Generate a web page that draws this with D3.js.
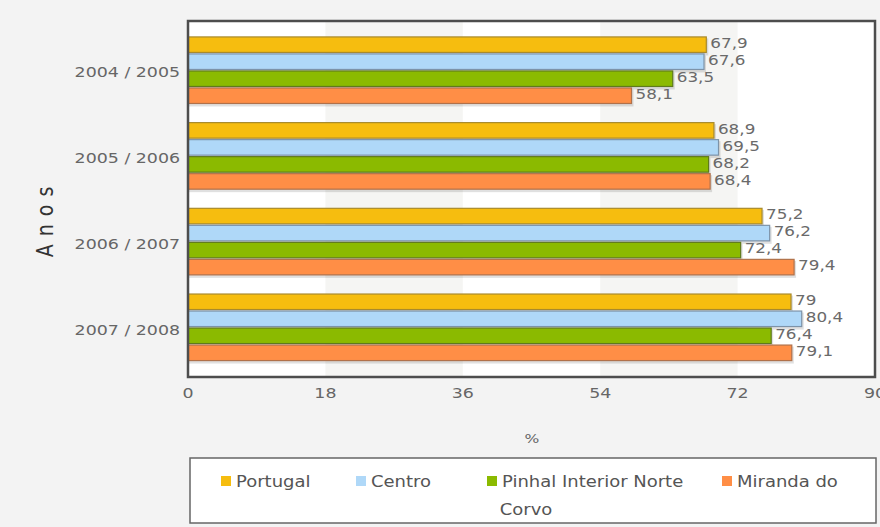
<!DOCTYPE html>
<html>
<head>
<meta charset="utf-8">
<script src="https://cdn.jsdelivr.net/npm/d3@7/dist/d3.min.js"></script>
<style>
  html, body { margin: 0; padding: 0; background: #f3f3f3; }
  svg { display: block; }
  text { font-family: "DejaVu Sans", Verdana, sans-serif; }
</style>
</head>
<body>
<svg id="chart" width="880" height="527"></svg>
<script>
// Categories (school years) and series
const anos = ["2004 / 2005", "2005 / 2006", "2006 / 2007", "2007 / 2008"];
const series = ["Portugal", "Centro", "Pinhal Interior Norte", "Miranda do Corvo"];
const colors = ["#F6BD0F", "#AFD8F8", "#8BBA00", "#FF8E46"];
const borders = ["#a88a2c", "#7d93a8", "#5f7a1c", "#b0714a"];

// Values (%) per series, in the order of anos
const portugal = [67.9, 68.9, 75.2, 79];
const centro = [67.6, 69.5, 76.2, 80.4];
const pinhal = [63.5, 68.2, 72.4, 76.4];
const miranda = [58.1, 68.4, 79.4, 79.1];
const valores = [portugal, centro, pinhal, miranda];

const xTicks = [0, 18, 36, 54, 72, 90];

const SX = 1.2; // horizontal text stretch
const svg = d3.select("#chart");

const plot = { left: 188, right: 875, top: 21, bottom: 377 };

const x = d3.scaleLinear().domain([0, 90]).range([plot.left, plot.right]);
const y0 = d3.scaleBand().domain(anos).range([plot.top, plot.bottom])
  .paddingInner(0.206).paddingOuter(0.18);
const y1 = d3.scaleBand().domain(series).range([0, y0.bandwidth()]);

function label(g, tx, ty, str, opts = {}) {
  const t = g.append("text")
    .attr("transform", `translate(${tx},${ty}) scale(${SX},1)` + (opts.rotate ? ` rotate(${opts.rotate})` : ""))
    .attr("font-size", opts.size || 15)
    .attr("fill", opts.fill || "#666")
    .attr("text-anchor", opts.anchor || "start")
    .attr("dominant-baseline", "central")
    .text(str);
  if (opts.spacing) t.attr("letter-spacing", opts.spacing);
  return t;
}

// Plot background with alternating vertical bands
svg.append("rect")
  .attr("x", plot.left).attr("y", plot.top)
  .attr("width", plot.right - plot.left).attr("height", plot.bottom - plot.top)
  .attr("fill", "#ffffff");
svg.append("g").selectAll("rect")
  .data(d3.pairs(xTicks).filter((p, i) => i % 2 === 1))
  .join("rect")
  .attr("x", d => x(d[0])).attr("width", d => x(d[1]) - x(d[0]))
  .attr("y", plot.top).attr("height", plot.bottom - plot.top)
  .attr("fill", "#f5f5f3");

// Bars
const groups = svg.append("g").selectAll("g")
  .data(anos)
  .join("g")
  .attr("transform", d => `translate(0,${y0(d)})`);

groups.each(function (ano, ai) {
  const g = d3.select(this);
  series.forEach((s, si) => {
    const v = valores[si][ai];
    const yy = y1(s);
    const h = y1.bandwidth();
    // shadow
    g.append("rect")
      .attr("x", x(0) + 1).attr("y", yy + 2)
      .attr("width", x(v) - x(0) + 1).attr("height", h)
      .attr("fill", "#000").attr("opacity", 0.12);
    g.append("rect")
      .attr("x", x(0)).attr("y", yy + 0.5)
      .attr("width", x(v) - x(0)).attr("height", h - 1.5)
      .attr("fill", colors[si])
      .attr("stroke", borders[si]).attr("stroke-width", 1.2);
  });
});

// Value labels
groups.each(function (ano, ai) {
  const g = d3.select(this);
  series.forEach((s, si) => {
    const v = valores[si][ai];
    label(g, x(v) + 4, y1(s) + y1.bandwidth() / 2 - 1.5, String(v).replace(".", ","), { size: 14, fill: "#6a6a6a" });
  });
});

// Plot border
svg.append("rect")
  .attr("x", plot.left).attr("y", plot.top)
  .attr("width", plot.right - plot.left).attr("height", plot.bottom - plot.top)
  .attr("fill", "none").attr("stroke", "#4d4d4d").attr("stroke-width", 2.5);

// Y axis category labels
const yAxisG = svg.append("g");
anos.forEach(a => {
  label(yAxisG, 180, y0(a) + y0.bandwidth() / 2 + 2, a, { anchor: "end", size: 14.5 });
});

// X axis tick labels
const xAxisG = svg.append("g");
xTicks.forEach(t => {
  label(xAxisG, x(t), 393, String(t), { anchor: "middle", size: 14.5 });
});

// Axis titles
label(svg, 532, 438, "%", { anchor: "middle", size: 13 });
label(svg, 45, 218, "Anos", { anchor: "middle", size: 19, fill: "#333", rotate: -90, spacing: 8 });

// Legend
const legend = svg.append("g");
legend.append("rect")
  .attr("x", 190).attr("y", 458).attr("width", 686).attr("height", 65)
  .attr("fill", "#ffffff").attr("stroke", "#666").attr("stroke-width", 1.5);
const legendItems = [
  { x: 221, text: "Portugal" },
  { x: 356, text: "Centro" },
  { x: 487, text: "Pinhal Interior Norte" },
  { x: 722, text: "Miranda do" }
];
legendItems.forEach((it, i) => {
  legend.append("rect")
    .attr("x", it.x).attr("y", 476).attr("width", 10).attr("height", 10)
    .attr("fill", colors[i]);
  label(legend, it.x + 15, 482, it.text, { size: 15, fill: "#555" });
});
label(legend, 526, 510, "Corvo", { anchor: "middle", size: 15, fill: "#555" });
</script>
</body>
</html>
